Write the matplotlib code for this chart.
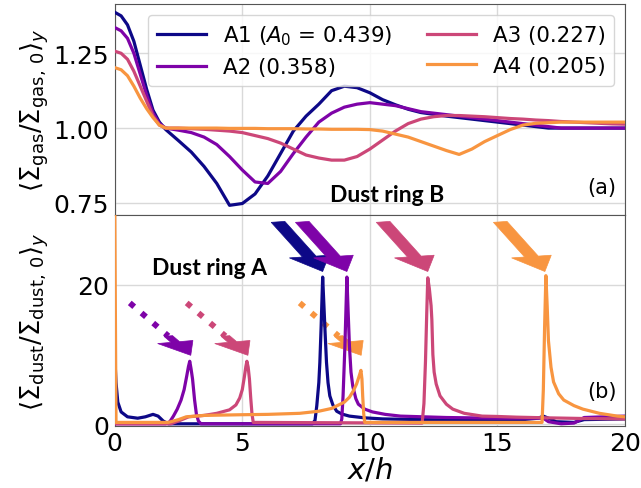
import math
import matplotlib
matplotlib.use("Agg")
import matplotlib.pyplot as plt

# ---- data ----
labels = [r"A1 ($A_0$ = 0.439)", "A2 (0.358)", "A3 (0.227)", "A4 (0.205)"]
colors = ["#0d0887", "#7e03a8", "#cc4778", "#f89540"]

# panel (a): gas surface density
gas_x = [0, 0.25, 0.5, 0.75, 1, 1.25, 1.5, 1.75, 2, 2.5, 3, 3.5, 4, 4.5, 5, 5.5,
         6, 6.5, 7, 7.5, 8, 8.5, 9, 9.5, 10, 10.5, 11, 11.5, 12, 12.5, 13, 13.5,
         14, 14.5, 15, 15.5, 16, 16.5, 17, 17.5, 18, 18.5, 19, 19.5, 20]
gas_a1 = [1.387, 1.375, 1.345, 1.29, 1.21, 1.13, 1.06, 1.02, 0.995, 0.958, 0.92, 0.872,
          0.815, 0.742, 0.748, 0.78, 0.84, 0.915, 0.99, 1.04, 1.08, 1.125, 1.14, 1.135,
          1.118, 1.095, 1.078, 1.063, 1.052, 1.046, 1.04, 1.035, 1.03, 1.025, 1.02,
          1.015, 1.01, 1.005, 1.0, 1.0, 1.0, 1.0, 1.0, 1.0, 1.0]
gas_a2 = [1.336, 1.325, 1.30, 1.25, 1.18, 1.11, 1.05, 1.015, 1.0, 0.993, 0.985, 0.97,
          0.945, 0.905, 0.86, 0.82, 0.815, 0.855, 0.915, 0.97, 1.02, 1.05, 1.07, 1.08,
          1.085, 1.08, 1.075, 1.065, 1.055, 1.05, 1.045, 1.04, 1.035, 1.03, 1.025,
          1.02, 1.015, 1.01, 1.005, 1.0, 1.0, 1.0, 1.0, 1.0, 1.0]
gas_a3 = [1.257, 1.25, 1.23, 1.19, 1.14, 1.09, 1.04, 1.01, 1.0, 1.0, 0.998, 0.996,
          0.993, 0.99, 0.985, 0.975, 0.965, 0.95, 0.93, 0.91, 0.90, 0.893, 0.893, 0.905,
          0.93, 0.96, 0.99, 1.015, 1.03, 1.038, 1.042, 1.042, 1.04, 1.038, 1.035,
          1.032, 1.03, 1.027, 1.025, 1.022, 1.02, 1.018, 1.016, 1.014, 1.013]
gas_a4 = [1.202, 1.195, 1.175, 1.14, 1.10, 1.065, 1.035, 1.01, 1.0, 1.0, 1.0, 1.0,
          1.0, 0.999, 0.999, 0.999, 0.998, 0.998, 0.998, 0.997, 0.997, 0.996, 0.996, 0.996,
          0.995, 0.99, 0.98, 0.97, 0.955, 0.94, 0.925, 0.912, 0.93, 0.955, 0.975,
          0.995, 1.01, 1.016, 1.018, 1.02, 1.02, 1.02, 1.02, 1.02, 1.02]
gas_series = [gas_a1, gas_a2, gas_a3, gas_a4]

# panel (b): dust surface density
dust_x1 = [0, 0.05, 0.12, 0.25, 0.5, 0.9, 1.2, 1.5, 1.7, 1.9, 2.1, 7.75, 7.85, 7.92,
           8.0, 8.04, 8.09, 8.15, 8.2, 8.24, 8.3, 8.36, 8.43, 8.55, 8.7, 8.9, 9.2,
           9.8, 10.5, 12, 14, 16, 16.6, 16.8, 17.0, 17.3, 18.0, 18.4, 20]
dust_a1 = [10, 6, 3.2, 1.8, 1.1, 0.9, 1.1, 1.45, 1.2, 0.5, 0.1, 0.1, 0.6, 2.7,
           6.0, 8.9, 14.0, 21.1, 17.0, 13.6, 8.9, 6.0, 4.1, 2.8, 1.9, 1.5, 1.2,
           0.95, 0.8, 0.7, 0.6, 0.7, 0.9, 1.2, 0.9, 0.4, 0.3, 0.7, 0.8]
dust_x2 = [0, 2.0, 2.16, 2.3, 2.45, 2.6, 2.72, 2.82, 2.89, 2.94, 2.99, 3.05, 3.13,
           3.2, 3.28, 3.38, 8.85, 8.9, 8.95, 9.02, 9.1, 9.15, 9.2, 9.26, 9.33, 9.45,
           9.55, 9.8, 10.1, 10.6, 11.2, 13, 15, 16.8, 17.0, 17.5, 18.0, 18.4, 20]
dust_a2 = [0.1, 0.1, 0.4, 1.2, 2.2, 3.5, 5.0, 6.9, 8.3, 9.05, 8.0, 6.5, 3.5,
           1.5, 0.5, 0.1, 0.1, 0.8, 4.1, 11.0, 21.1, 16.0, 11.2, 7.5, 5.5, 3.7,
           2.9, 2.2, 1.8, 1.45, 1.2, 1.0, 0.9, 0.9, 0.4, 0.1, 0.2, 1.0, 1.2]
dust_x3 = [0, 2.2, 2.5, 2.9, 3.5, 4.0, 4.5, 4.75, 4.9, 5.0, 5.08, 5.14, 5.18, 5.23,
           5.28, 5.33, 5.38, 5.43, 12.05, 12.12, 12.18, 12.23, 12.27, 12.33, 12.4,
           12.43, 12.47, 12.52, 12.6, 12.75, 13.0, 13.25, 13.7, 14.4, 15.0, 15.75,
           17, 18.5, 20]
dust_a3 = [0.1, 0.1, 0.5, 1.1, 1.3, 1.6, 2.1, 2.8, 3.8, 5.0, 6.8, 8.3, 9.05, 8.2,
           6.5, 3.8, 1.5, 0.3, 0.2, 3.0, 9.0, 16.0, 21.0, 19.5, 17.0, 15.0, 10.0,
           7.5, 5.8, 4.1, 2.9, 2.2, 1.6, 1.2, 1.15, 1.05, 0.95, 0.85, 0.8]
dust_x4 = [0, 0.05, 2.1, 2.5, 2.8, 3.5, 5.0, 6.0, 7.25, 8.0, 8.5, 9.0, 9.2, 9.35,
           9.48, 9.57, 9.65, 9.69, 9.72, 9.76, 9.8, 16.75, 16.8, 16.85, 16.9, 16.95,
           17.0, 17.1, 17.2, 17.4, 17.6, 18.0, 18.35, 19.0, 19.7, 20]
dust_a4 = [32, 0.3, 0.3, 0.7, 1.1, 1.3, 1.4, 1.45, 1.6, 1.9, 2.3, 3.2, 3.9, 4.8,
           5.8, 6.8, 7.75, 6.5, 4.0, 1.5, 0.3, 0.3, 5.0, 14.0, 21.3, 17.0,
           12.0, 8.2, 6.1, 4.4, 3.5, 2.7, 2.2, 1.6, 1.2, 1.1]
dust_xs = [dust_x1, dust_x2, dust_x3, dust_x4]
dust_series = [dust_a1, dust_a2, dust_a3, dust_a4]

# big arrows: tip positions of the ring-B peaks (A1..A4)
big_tip_x = [8.15, 9.1, 12.27, 16.86]
big_tip_y = [21.9, 21.9, 21.9, 21.9]
# dotted arrows: start and tip for ring-A peaks (A2..A4)
dot_start_x = [0.59, 2.82, 7.25]
dot_start_y = [17.4, 17.4, 17.4]
dot_tip_x = [2.98, 5.22, 9.66]
dot_tip_y = [9.9, 9.9, 9.9]
dot_colors = colors[1:]

plt.rcParams["font.family"] = ["DejaVu Sans"]

fig, (ax1, ax2) = plt.subplots(2, 1, figsize=(6.41, 4.89), dpi=100, sharex=True)
fig.subplots_adjust(left=0.179, right=0.975, top=0.99, bottom=0.127, hspace=0)

for ys, c, lab in zip(gas_series, colors, labels):
    ax1.plot(gas_x, ys, color=c, lw=2.3, label=lab, zorder=3)

for xs, ys, c in zip(dust_xs, dust_series, colors):
    ax2.plot(xs, ys, color=c, lw=2.3, zorder=3)

# big solid arrows pointing at ring B peaks
for tx, ty, c in zip(big_tip_x, big_tip_y, colors):
    ax2.arrow(tx - 1.75, ty + 7.1, 1.75, -7.1, width=0.55, head_width=1.6,
              head_length=2.2, length_includes_head=True, fc=c, ec=c, lw=0.5,
              zorder=2, clip_on=False)

# dotted arrows pointing at ring A peaks: dotted shaft + solid head
head_len = 2.0
stem_len = 0.9
for sx, sy, tx, ty, c in zip(dot_start_x, dot_start_y, dot_tip_x, dot_tip_y, dot_colors):
    dx, dy = tx - sx, ty - sy
    L = math.hypot(dx, dy)
    ux, uy = dx / L, dy / L
    hx, hy = tx - (head_len + stem_len) * ux, ty - (head_len + stem_len) * uy
    ax2.plot([sx, hx], [sy, hy], color=c, lw=4.2, ls=(0, (1, 1.65)),
             dash_capstyle="butt", zorder=2)
    ax2.arrow(hx, hy, tx - hx, ty - hy, width=0.35, head_width=1.45,
              head_length=head_len, length_includes_head=True, fc=c, ec=c,
              lw=0.5, zorder=2)

ax1.set_xlim(0, 20)
ax1.set_ylim(0.71, 1.415)
ax2.set_ylim(-0.2, 30)
ax1.set_yticks([0.75, 1.0, 1.25])
ax2.set_yticks([0, 20])
ax2.set_xticks([0, 5, 10, 15, 20])

for ax in (ax1, ax2):
    ax.grid(True, color="#d9d9d9", lw=1.0)
    ax.set_axisbelow(True)
    ax.tick_params(labelsize=18, length=0, pad=4)
    for s in ax.spines.values():
        s.set_color("#555555")

ax1.set_ylabel(r"$\langle\Sigma_{\rm gas}/\Sigma_{\rm gas,\,0}\rangle_y$", fontsize=18.5,
               labelpad=2)
ax2.set_ylabel(r"$\langle\Sigma_{\rm dust}/\Sigma_{\rm dust,\,0}\rangle_y$", fontsize=18.5,
               labelpad=2)
ax2.set_xlabel(r"$x/h$", fontsize=21, labelpad=0)
fig.align_ylabels([ax1, ax2])

ax1.legend(ncol=2, loc="upper right", fontsize=15.4, handlelength=2.3,
           columnspacing=1.6, framealpha=0.8)

ax1.text(0.955, 0.13, "(a)", transform=ax1.transAxes, fontsize=15, ha="center", va="center")
ax2.text(0.955, 0.165, "(b)", transform=ax2.transAxes, fontsize=15, ha="center", va="center")
ax1.text(0.533, 0.095, "Dust ring B", transform=ax1.transAxes, fontsize=16.5,
         fontweight="bold", family="Lato", ha="center", va="center", zorder=5)
ax2.text(0.186, 0.75, "Dust ring A", transform=ax2.transAxes, fontsize=16.5,
         fontweight="bold", family="Lato", ha="center", va="center", zorder=5)

fig.savefig("out.png", dpi=100)
